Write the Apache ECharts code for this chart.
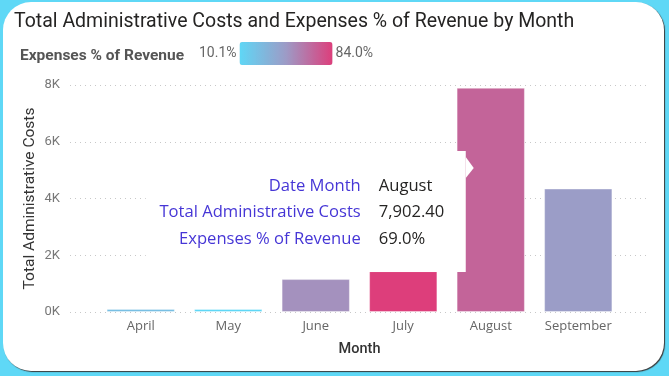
<!DOCTYPE html>
<html>
<head>
<meta charset="utf-8">
<script src="https://cdn.jsdelivr.net/npm/echarts@6/dist/echarts.min.js"></script>
<style>
  html, body { margin: 0; padding: 0; }
  body { width: 669px; height: 376px; background: #5fd8f6; position: relative; overflow: hidden; }
  #card { position: absolute; left: 3px; top: 2px; width: 661px; height: 369px; background: #fff; border-radius: 28px; box-shadow: 1px 1px 1px #3a3a3a; }
  #chart { position: absolute; left: 0; top: 0; width: 669px; height: 376px; }
</style>
</head>
<body>
<div id="card"></div>
<div id="chart"></div>
<script>
const months = ["April", "May", "June", "July", "August", "September"];
const adminCosts = [110, 95, 1160, 1440, 7902.4, 4350];
const expensePct = [25.0, 10.1, 51.0, 84.0, 69.0, 46.0];
const pctRange = [10.1, 84.0];
const yTicks = [0, 2000, 4000, 6000, 8000];

const tipIndex = 4;
const tipLabels = ["Date Month", "Total Administrative Costs", "Expenses % of Revenue"];

const chart = echarts.init(document.getElementById("chart"));

const option = {
  animation: false,
  textStyle: { fontFamily: "Roboto, 'Open Sans', sans-serif" },
  title: [
    {
      text: "Total Administrative Costs and Expenses % of Revenue by Month",
      left: 14,
      top: 12,
      padding: 0,
      textStyle: { fontSize: 19.5, fontWeight: "normal", color: "#252423", fontFamily: "Roboto" },
    },
    {
      text: "Expenses % of Revenue",
      left: 20,
      top: 48,
      padding: 0,
      textStyle: { fontSize: 15.5, fontWeight: "bold", color: "#555", fontFamily: "Roboto" },
    },
  ],
  visualMap: {
    type: "continuous",
    seriesIndex: 0,
    dimension: 2,
    min: pctRange[0],
    max: pctRange[1],
    orient: "horizontal",
    left: 199,
    top: 42,
    padding: 0,
    itemWidth: 23,
    itemHeight: 93,
    text: [pctRange[1].toFixed(1) + "%", pctRange[0].toFixed(1) + "%"],
    textGap: 3,
    calculable: false,
    hoverLink: false,
    inRange: { color: ["#5fd7f6", "#9d9bc6", "#dd3e7b"] },
    textStyle: { color: "#666", fontSize: 14 },
  },
  grid: [
    { left: 70, right: 21, top: 85, bottom: 64 },
    { left: 97, right: 47, top: 85, bottom: 64 },
  ],
  xAxis: [
    { gridIndex: 0, type: "value", min: 0, max: 1, show: false },
    {
      gridIndex: 1,
      type: "category",
      data: months,
      axisLine: { show: false },
      axisTick: { show: false },
      axisLabel: { color: "#666", fontSize: 13, margin: 8, fontFamily: "'Open Sans'" },
      name: "Month",
      nameLocation: "middle",
      nameGap: 30,
      nameTextStyle: { color: "#333", fontSize: 14.5, fontWeight: 500 },
    },
  ],
  yAxis: [
    {
      gridIndex: 0,
      type: "value",
      min: yTicks[0],
      max: yTicks[yTicks.length - 1],
      interval: yTicks[1] - yTicks[0],
      axisLine: { show: false },
      axisTick: { show: false },
      axisLabel: {
        color: "#777",
        fontSize: 13,
        margin: 10,
        formatter: (v) => v / 1000 + "K",
      },
      splitLine: { show: true, lineStyle: { color: "#c8c8c8", type: [1, 4], width: 1 } },
      name: "Total Administrative Costs",
      nameLocation: "middle",
      nameGap: 32,
      nameMoveOverlap: false,
      nameTextStyle: { color: "#333", fontSize: 15.5 },
    },
    {
      gridIndex: 1,
      type: "value",
      min: yTicks[0],
      max: yTicks[yTicks.length - 1],
      show: false,
      splitLine: { show: false },
    },
  ],
  series: [
    {
      type: "bar",
      xAxisIndex: 1,
      yAxisIndex: 1,
      barWidth: "78%",
      barMinHeight: 3,
      data: months.map((m, i) => [m, adminCosts[i], expensePct[i]]),
      encode: { x: 0, y: 1 },
      itemStyle: { borderColor: "rgba(255,255,255,0.35)", borderWidth: 1 },
    },
  ],
};

chart.setOption(option);

// tooltip-like callout next to the August bar
const center = chart.convertToPixel({ seriesIndex: 0 }, [tipIndex, 0]);
const barW = 68;
const barLeft = center[0] - barW / 2;
const boxRight = barLeft + 9;
const tipValues = [
  months[tipIndex],
  adminCosts[tipIndex].toLocaleString("en-US", { minimumFractionDigits: 2, maximumFractionDigits: 2 }),
  expensePct[tipIndex].toFixed(1) + "%",
];
const rowY = [186, 212, 239];

const graphics = [
  { type: "rect", z: 100, shape: { x: boxRight - 320, y: 151, width: 320, height: 121 }, style: { fill: "#fff" } },
  { type: "polygon", z: 100, shape: { points: [[boxRight, 157], [boxRight + 8, 168], [boxRight, 178]] }, style: { fill: "#fff" } },
];
tipLabels.forEach((t, i) => {
  graphics.push({
    type: "text", z: 101, x: barLeft - 96, y: rowY[i],
    style: { text: t, fill: "#4636d6", font: "16.6px 'Open Sans'", align: "right", verticalAlign: "middle" },
  });
  graphics.push({
    type: "text", z: 101, x: barLeft - 78, y: rowY[i],
    style: { text: tipValues[i], fill: "#252423", font: "16.6px 'Open Sans'", align: "left", verticalAlign: "middle" },
  });
});
chart.setOption({ graphic: graphics });
</script>
</body>
</html>
